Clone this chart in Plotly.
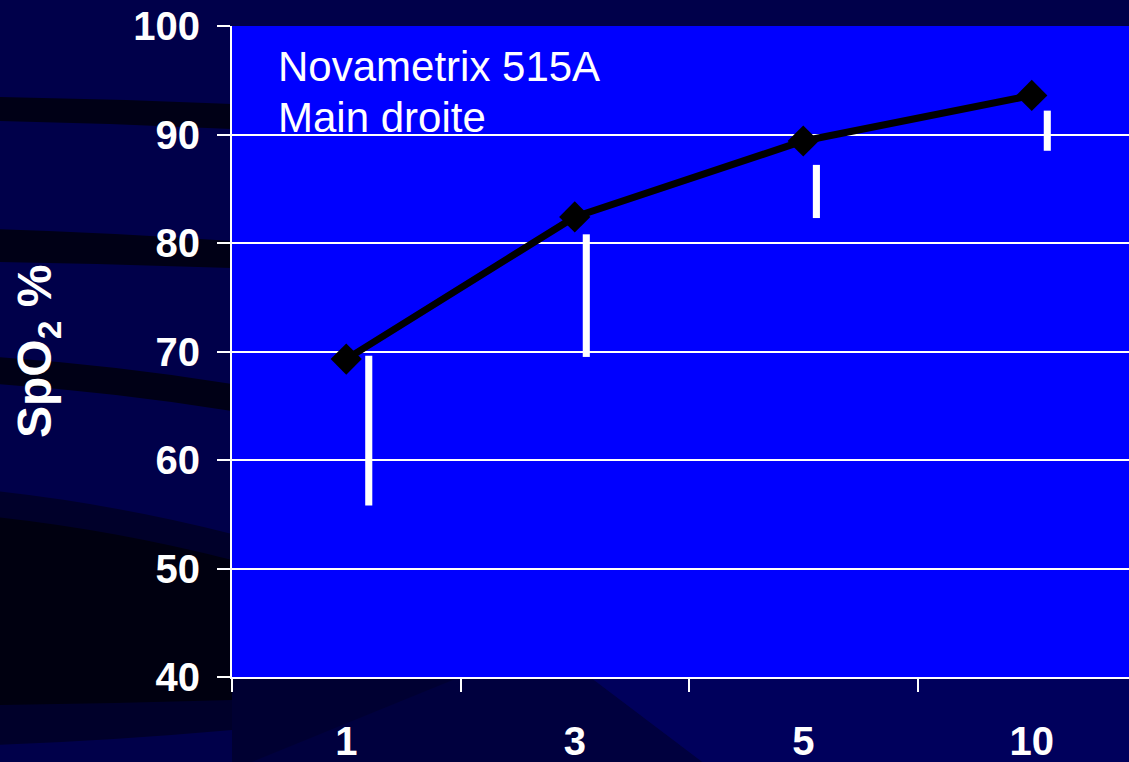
import plotly.graph_objects as go

# ---------------- data ----------------
categories = ["1", "3", "5", "10"]
spo2_mean = [69.3, 82.4, 89.4, 93.6]
range_low = [55.8, 69.5, 82.3, 88.5]
range_high = [69.6, 80.8, 87.2, 92.2]
y_ticks = [40, 50, 60, 70, 80, 90, 100]
label_line1 = "Novametrix 515A"
label_line2 = "Main droite"
y_title = "SpO<sub>2</sub> %"

# ---------------- style ----------------
W, H = 1129, 762
PL, PR, PT, PB = 232, 1129, 26, 677
BG = "#00004A"
PLOT_BG = "#0000FF"
STRIPE = "#000016"
FONT = "Liberation Sans, Arial, sans-serif"
bar_shift = [0.083, 0.035, 0.042, 0.0525]   # left edge of each white range bar, in category units
bar_width = 0.031


def px(x):
    return (x - PL) / (PR - PL)


def py(y):
    return (PB - y) / (PB - PT)


def band(x0, x1, ytl, ytr, ybr, ybl, bend=0.3):
    cx = (x0 + x1) / 2
    cyt = ytl + (ytr - ytl) * bend
    cyb = ybl + (ybr - ybl) * bend
    return (f"M {px(x0):.4f},{py(ytl):.4f} Q {px(cx):.4f},{py(cyt):.4f} {px(x1):.4f},{py(ytr):.4f} "
            f"L {px(x1):.4f},{py(ybr):.4f} Q {px(cx):.4f},{py(cyb):.4f} {px(x0):.4f},{py(ybl):.4f} Z")


def poly(points):
    return "M " + " L ".join(f"{px(a):.4f},{py(b):.4f}" for a, b in points) + " Z"


def deco(path, color):
    return dict(type="path", xref="paper", yref="paper", path=path,
                fillcolor=color, line=dict(width=0), layer="below")


shapes = [
    deco(poly([(232, 677), (590, 677), (713, 770), (232, 770)]), "#00003E"),
    deco(poly([(590, 677), (1140, 677), (1140, 770), (713, 770)]), "#00005C"),
    deco(poly([(232, 677), (460, 677), (232, 770)]), "#000032"),
    deco(band(-5, 232, 97, 104, 129, 121), STRIPE),
    deco(band(-5, 232, 229, 241, 268, 262), STRIPE),
    deco(band(-5, 232, 357, 384, 411, 384), STRIPE),
    deco(band(-5, 232, 491, 534, 730, 745), "#00002A"),
    deco(band(-5, 232, 517, 560, 700, 705), "#000010"),
]

fig = go.Figure()

fig.add_trace(go.Bar(
    x=categories,
    y=[h - l for h, l in zip(range_high, range_low)],
    base=range_low,
    width=bar_width,
    offset=bar_shift,
    marker=dict(color="white", line=dict(width=0)),
    showlegend=False,
    hoverinfo="skip",
))

fig.add_trace(go.Scatter(
    x=categories,
    y=spo2_mean,
    mode="lines+markers",
    line=dict(color="black", width=7),
    marker=dict(symbol="diamond", size=24, color="black", line=dict(width=0)),
    showlegend=False,
    cliponaxis=False,
))

fig.update_layout(
    width=W, height=H, autosize=False,
    margin=dict(l=PL, r=W - PR, t=PT, b=H - PB, pad=0),
    paper_bgcolor=BG,
    plot_bgcolor=PLOT_BG,
    shapes=shapes,
    font=dict(family=FONT, color="white", size=20),
    xaxis=dict(
        type="category",
        range=[-0.5, -0.5 + (PR - PL) / 228.5],
        tickson="boundaries",
        ticks="outside", ticklen=13, tickwidth=2, tickcolor="white",
        showline=True, linecolor="white", linewidth=2,
        showgrid=False, zeroline=False,
        tickfont=dict(family=FONT, size=40, color="white", weight="bold"),
        ticklabelstandoff=28,
    ),
    yaxis=dict(
        range=[40, 100],
        tickvals=y_ticks,
        ticks="outside", ticklen=13, tickwidth=2, tickcolor="white",
        showline=True, linecolor="white", linewidth=2,
        showgrid=True, gridcolor="white", gridwidth=2,
        zeroline=False,
        tickfont=dict(family=FONT, size=40, color="white", weight="bold"),
        ticklabelstandoff=9,
    ),
    annotations=[
        dict(text=label_line1, xref="paper", yref="paper", x=px(276), y=py(66),
             xanchor="left", yanchor="middle", showarrow=False,
             font=dict(family=FONT, size=42, color="white")),
        dict(text=label_line2, xref="paper", yref="paper", x=px(276), y=py(117.5),
             xanchor="left", yanchor="middle", showarrow=False,
             font=dict(family=FONT, size=42, color="white")),
        dict(text=y_title, xref="paper", yref="paper", x=px(38), y=py(352),
             xanchor="center", yanchor="middle", textangle=-90, showarrow=False,
             font=dict(family=FONT, size=48, color="white", weight="bold")),
    ],
)

fig.write_html(
    "out.html",
    config={"displayModeBar": False},
    post_script="document.body.style.margin='0';document.body.style.overflow='hidden';",
)
